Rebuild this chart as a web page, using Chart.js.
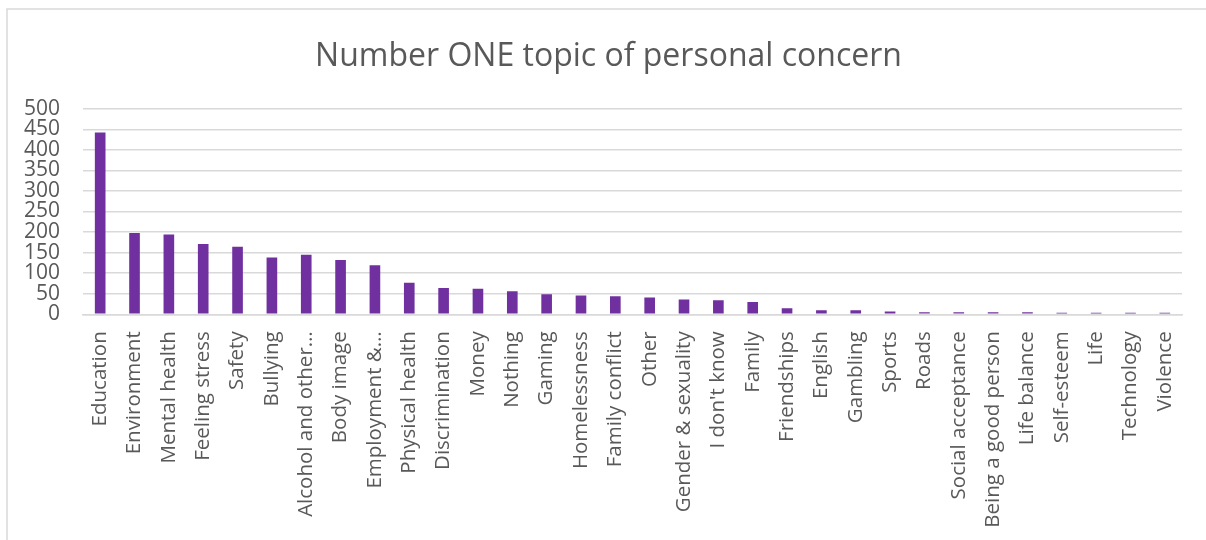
<!DOCTYPE html>
<html>
<head>
<meta charset="utf-8">
<script src="https://cdn.jsdelivr.net/npm/chart.js@4.4.1/dist/chart.umd.min.js"></script>
<style>
  html, body { margin: 0; padding: 0; background: #ffffff; overflow: hidden; }
  #wrap { position: relative; width: 1206px; height: 540px; overflow: hidden; }
  #chart { display: block; }
</style>
</head>
<body>
<div id="wrap"><canvas id="chart" width="1217" height="540"></canvas></div>
<script>
// Survey responses: the single topic each respondent named as their top concern
const categories = [
  "Education", "Environment", "Mental health", "Feeling stress", "Safety",
  "Bullying", "Alcohol and other…", "Body image", "Employment &…", "Physical health",
  "Discrimination", "Money", "Nothing", "Gaming", "Homelessness",
  "Family conflict", "Other", "Gender & sexuality", "I don't know", "Family",
  "Friendships", "English", "Gambling", "Sports", "Roads",
  "Social acceptance", "Being a good person", "Life balance", "Self-esteem", "Life",
  "Technology", "Violence"
];

const responses = [
  442, 198, 194, 171, 164,
  138, 145, 132, 119, 77,
  64, 62, 56, 49, 46,
  44, 41, 36, 34, 30,
  15, 10, 10, 7, 5,
  5, 5, 5, 4, 4,
  4, 4
];

const yTicks = [0, 50, 100, 150, 200, 250, 300, 350, 400, 450, 500];

const chartTitle = "Number ONE topic of personal concern";

// Thin frame along the top and left edges of the chart box
const framePlugin = {
  id: 'frame',
  beforeDraw(chart) {
    const ctx = chart.ctx;
    ctx.save();
    ctx.strokeStyle = '#d9d9d9';
    ctx.lineWidth = 1.5;
    ctx.beginPath();
    ctx.moveTo(7, chart.height);
    ctx.lineTo(7, 9);
    ctx.lineTo(chart.width, 9);
    ctx.stroke();
    ctx.restore();
  }
};

new Chart(document.getElementById('chart'), {
  type: 'bar',
  data: {
    labels: categories,
    datasets: [{
      data: responses,
      backgroundColor: '#7030a0',
      borderWidth: 0,
      barPercentage: 0.62,
      categoryPercentage: 0.5
    }]
  },
  options: {
    responsive: false,
    animation: false,
    devicePixelRatio: 1,
    layout: { padding: 0 },
    plugins: {
      legend: { display: false },
      tooltip: { enabled: false },
      title: {
        display: true,
        text: chartTitle,
        color: '#595959',
        font: { family: '"Open Sans", sans-serif', size: 32, weight: 'normal' },
        padding: { top: 38, bottom: 32.3 }
      }
    },
    scales: {
      x: {
        grid: { display: false, drawTicks: false },
        border: { display: true, color: '#d9d9d9', width: 1.5 },
        ticks: {
          color: '#595959',
          font: { family: '"Open Sans", sans-serif', size: 20.5 },
          minRotation: 90,
          maxRotation: 90,
          autoSkip: false,
          padding: 17
        },
        afterFit(scale) { scale.height = 225.7; }
      },
      y: {
        min: 0,
        max: 500,
        afterBuildTicks(scale) { scale.ticks = yTicks.map(v => ({ value: v })); },
        grid: { color: '#d9d9d9', lineWidth: 1.5, drawTicks: false },
        border: { display: false },
        ticks: {
          color: '#595959',
          font: { family: '"Open Sans", sans-serif', size: 21, lineHeight: 1 },
          autoSkip: false,
          padding: 23
        },
        afterFit(scale) { scale.width = 83; }
      },
      // empty right-hand margin beside the plot
      yRight: {
        position: 'right',
        min: 0,
        max: 500,
        grid: { display: false, drawTicks: false },
        border: { display: false },
        ticks: { display: false },
        afterFit(scale) { scale.width = 35; }
      }
    }
  },
  plugins: [framePlugin]
});
</script>
</body>
</html>
